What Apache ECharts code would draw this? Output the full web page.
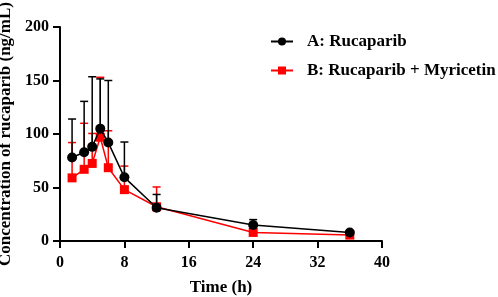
<!DOCTYPE html>
<html>
<head>
<meta charset="utf-8">
<script src="https://cdn.jsdelivr.net/npm/echarts@6/dist/echarts.min.js"></script>
<style>
	html, body { margin: 0; padding: 0; background: #fff; }
	#chart { width: 498px; height: 297px; }
</style>
</head>
<body>
<div id="chart"></div>
<script>
// 时间点 (h)
var times = [1.5, 3, 4, 5, 6, 8, 12, 24, 36];
// A: Rucaparib 平均值和上误差
var meanA = [78, 83, 88, 105, 92, 59.5, 31, 15, 8];
var errA = [114, 130.5, 153.5, 151.5, 150, 92.5, 43.5, 20, 9.5];
// B: Rucaparib + Myricetin
var meanB = [59, 67, 72.5, 97, 68.5, 48, 32, 8, 5.5];
var errB = [92, 110, 100.5, 153, 103, 70, 50.5, 9, 6];

var font = 'Liberation Serif';

function pairs(xs, ys) {
	return xs.map(function(x, i) { return [x, ys[i]]; });
}

// 误差棒 (只画上半部分)
function errorBar(color) {
	return function(params, api) {
		var x = api.value(0);
		var p0 = api.coord([x, api.value(1)]);
		var p1 = api.coord([x, api.value(2)]);
		var w = 4;
		var style = { stroke: color, lineWidth: 1.5, fill: null };
		return {
			type: 'group',
			children: [
				{ type: 'line', shape: { x1: p0[0], y1: p0[1], x2: p1[0], y2: p1[1] }, style: style },
				{ type: 'line', shape: { x1: p1[0] - w, y1: p1[1], x2: p1[0] + w, y2: p1[1] }, style: style }
			]
		};
	};
}

var chart = echarts.init(document.getElementById('chart'));
var tickText = { fontFamily: font, fontWeight: 'bold', fontSize: 16, color: '#000' };
var nameText = { fontFamily: font, fontWeight: 'bold', fontSize: 17, color: '#000' };

chart.setOption({
	animation: false,
	backgroundColor: '#fff',
	grid: { left: 60, right: 116, top: 27, bottom: 56, outerBoundsMode: 'none' },
	legend: {
		orient: 'vertical',
		left: 270,
		top: 33,
		padding: 0,
		itemGap: 12,
		itemWidth: 22,
		itemHeight: 10,
		textStyle: { fontFamily: font, fontWeight: 'bold', fontSize: 17, color: '#000', padding: [0, 0, 0, 9] },
		data: ['A: Rucaparib', 'B: Rucaparib + Myricetin']
	},
	xAxis: {
		type: 'value',
		min: 0,
		max: 40,
		interval: 8,
		name: 'Time (h)',
		nameLocation: 'middle',
		nameGap: 38,
		nameTextStyle: nameText,
		axisLine: { lineStyle: { color: '#000', width: 2 } },
		axisTick: { length: 7, lineStyle: { color: '#000', width: 2 } },
		axisLabel: Object.assign({ margin: 14 }, tickText),
		splitLine: { show: false }
	},
	yAxis: {
		type: 'value',
		min: 0,
		max: 200,
		interval: 50,
		name: 'Concentration of rucaparib (ng/mL)',
		nameLocation: 'middle',
		nameGap: 43,
		nameTextStyle: nameText,
		axisLine: { show: true, lineStyle: { color: '#000', width: 2 } },
		axisTick: { show: true, length: 7, lineStyle: { color: '#000', width: 2 } },
		axisLabel: Object.assign({ margin: 11 }, tickText),
		splitLine: { show: false }
	},
	series: [
		{
			name: 'B: Rucaparib + Myricetin',
			type: 'line',
			data: pairs(times, meanB),
			symbol: 'rect',
			symbolSize: 9,
			itemStyle: { color: '#ff0000' },
			lineStyle: { color: '#ff0000', width: 1.5 },
			z: 2
		},
		{
			name: 'errB',
			type: 'custom',
			renderItem: errorBar('#ff0000'),
			data: times.map(function(t, i) { return [t, meanB[i], errB[i]]; }),
			z: 1
		},
		{
			name: 'errA',
			type: 'custom',
			renderItem: errorBar('#000'),
			data: times.map(function(t, i) { return [t, meanA[i], errA[i]]; }),
			z: 3
		},
		{
			name: 'A: Rucaparib',
			type: 'line',
			data: pairs(times, meanA),
			symbol: 'circle',
			symbolSize: 10,
			itemStyle: { color: '#000' },
			lineStyle: { color: '#000', width: 1.5 },
			z: 4
		}
	]
});
</script>
</body>
</html>
